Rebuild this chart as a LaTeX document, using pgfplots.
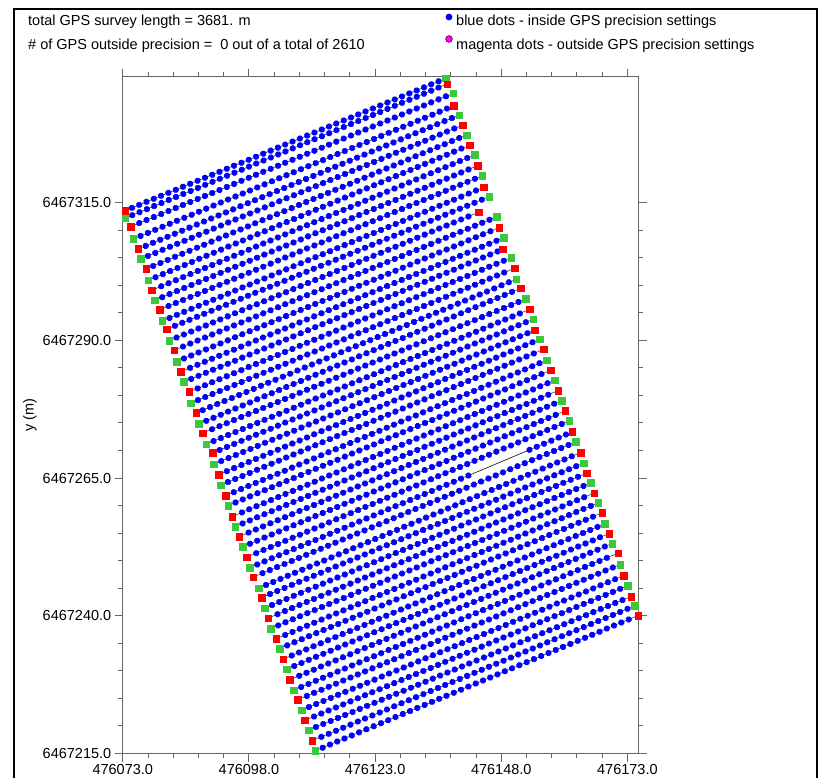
\documentclass[border=0pt]{standalone}
\usepackage{fontspec}
\setmainfont{Liberation Sans}
\usepackage{pgfplots}
\pgfplotsset{compat=1.18}
\usepackage{pgfplotstable}
\usetikzlibrary{decorations.markings}
\definecolor{gpsblue}{RGB}{0,0,255}
\definecolor{gpsgreen}{RGB}{60,200,60}
\definecolor{gpsred}{RGB}{255,0,0}
\definecolor{gpsmag}{RGB}{255,0,255}

% local coordinates: x = Easting - 476073, y = Northing - 6467215
% kind: 0 = first point (green), 1 = last point (red), 2 = interior break
\pgfplotstableread{
line kind x y
1 0 64.03 122.55
1 1 0.44 98.53
2 0 0.44 97.15
2 1 64.28 121.52
3 0 65.47 119.83
3 1 1.56 95.63
4 0 2.08 93.40
4 1 65.61 117.58
5 0 66.66 115.89
5 1 3.07 91.58
6 0 3.55 89.77
6 1 67.39 114.08
7 0 68.13 112.26
7 1 4.60 87.95
8 0 5.05 85.90
8 1 68.78 110.45
9 0 69.71 108.64
9 1 5.78 84.09
10 0 6.38 82.28
10 1 70.31 106.69
11 0 71.22 104.88
11 1 7.37 80.57
12 0 7.82 78.52
12 1 71.55 102.78
13 0 72.60 101.07
13 1 8.70 77.01
14 0 9.21 74.95
14 1 70.50 98.24
15 0 74.13 97.44
15 1 10.20 73.20
16 0 10.68 71.14
16 1 74.58 95.45
17 0 75.52 93.63
17 1 11.53 69.32
18 0 12.12 67.45
18 1 75.32 91.53
19 0 76.96 90.00
19 1 13.17 65.64
20 0 13.45 63.59
20 1 77.63 88.08
21 0 77.95 86.08
21 1 14.56 61.83
22 0 15.10 59.83
22 1 78.82 84.45
23 0 79.87 82.51
23 1 15.83 58.15
24 0 16.54 56.15
24 1 80.67 80.64
25 0 81.32 78.83
25 1 17.81 54.57
26 0 18.07 52.52
26 1 81.60 76.83
27 0 82.65 75.20
27 1 19.06 50.64
28 0 19.39 48.71
28 1 83.44 73.39
29 0 84.03 71.39
29 1 20.44 46.83
30 0 20.90 45.01
30 1 84.83 69.58
31 0 85.62 67.76
31 1 21.69 43.02
32 0 22.29 41.20
32 1 86.27 65.87
33 0 86.95 64.06
33 1 23.08 39.39
34 0 23.75 37.52
34 1 87.66 62.19
35 0 88.45 60.38
35 1 24.60 35.65
36 0 25.20 33.76
36 2 69.40 50.80
136 2 80.60 55.12
136 1 89.05 58.38
37 0 89.78 56.57
37 1 25.85 32.02
38 0 26.92 30.03
38 1 90.77 54.63
39 0 91.30 52.70
39 1 27.52 28.32
40 0 28.11 26.40
40 1 91.90 50.89
41 0 92.75 49.13
41 1 28.82 24.58
42 0 29.36 22.70
42 1 93.40 47.26
43 0 94.20 45.50
43 1 30.41 20.83
44 0 31.14 19.07
44 1 94.99 43.69
45 0 95.52 41.69
45 1 31.80 17.14
46 0 32.53 15.33
46 1 96.38 39.93
47 0 96.97 38.12
47 1 33.12 13.39
48 0 33.91 11.52
48 1 98.16 36.38
49 0 98.55 34.31
49 1 34.65 9.76
50 0 35.44 7.89
50 1 99.23 32.26
51 0 100.02 30.44
51 1 36.09 6.01
52 0 36.85 4.26
52 1 100.73 28.50
53 0 101.46 26.81
53 1 37.50 2.32
54 0 38.16 0.51
54 1 102.12 25.05
}\gpsdata

\begin{document}
\begin{tikzpicture}
\useasboundingbox (0pt,0pt) rectangle (824pt,777pt);
% outer frame
\draw[line width=2pt, black] (14pt,-5pt) -- (14pt,768pt) -- (817pt,768pt) -- (817pt,-5pt);
\begin{axis}[
  scale only axis, width=515.7pt, height=676.8pt,
  at={(122.8pt,23.5pt)}, anchor=south west,
  xmin=0, xmax=102.2, ymin=0, ymax=122.85,
  xtick={0,25,50,75,100},
  xticklabels={476073.0,476098.0,476123.0,476148.0,476173.0},
  ytick={0,25,50,75,100},
  yticklabels={6467215.0,6467240.0,6467265.0,6467290.0,6467315.0},
  minor x tick num=4, minor y tick num=4,
  tick align=outside,
  major tick length=8pt, minor tick length=4.5pt,
  axis line style={black!60, line width=1.2pt},
  every tick/.style={black!60, line width=1pt},
  tick label style={font=\fontsize{14.5}{16}\selectfont, black},
  xticklabel style={yshift=1pt},
  clip=false,
  gps/.style={draw=black!75, line width=0.6pt, mark=none,
    postaction={decorate, decoration={markings,
      mark=between positions 0 and 0.985 step 7.9pt with {\fill[gpsblue] (0,0) circle (2.8pt);}}}},
]
\addplot[only marks, mark=square*, mark size=3.3pt, mark options={fill=gpsgreen, draw=gpsgreen}]
  table[x=x, y=y, restrict expr to domain={\thisrow{kind}}{0:0}] {\gpsdata};
\pgfplotsinvokeforeach{1,...,54,136}{
  \addplot[gps] table[x=x, y=y, restrict expr to domain={\thisrow{line}}{#1:#1}] {\gpsdata};
}
\addplot[black, line width=0.6pt] coordinates {(69.40,50.80) (80.60,55.12)};
\addplot[only marks, mark=square*, mark size=3.3pt, mark options={fill=gpsred, draw=gpsred}]
  table[x=x, y=y, restrict expr to domain={\thisrow{kind}}{1:1}] {\gpsdata};
\end{axis}
\node[rotate=90, font=\fontsize{14.5}{16}\selectfont] at (30pt,362pt) {y (m)};
\begin{scope}[every node/.style={anchor=base west, inner sep=0pt, font=\fontsize{14.5}{17}\selectfont}]
\node at (28pt,751pt) {total GPS survey length = 3681. m};
\node at (28pt,727pt) {\# of GPS outside precision =\ \ 0 out of a total of 2610};
\fill[gpsblue] (449pt,760pt) circle (3.4pt);
\node at (456pt,751pt) {blue dots - inside GPS precision settings};
\filldraw[fill=gpsmag, draw=purple!50!black, line width=0.6pt] (449pt,738pt) circle (3.4pt);
\node at (456pt,727pt) {magenta dots - outside GPS precision settings};
\end{scope}
\end{tikzpicture}
\end{document}
